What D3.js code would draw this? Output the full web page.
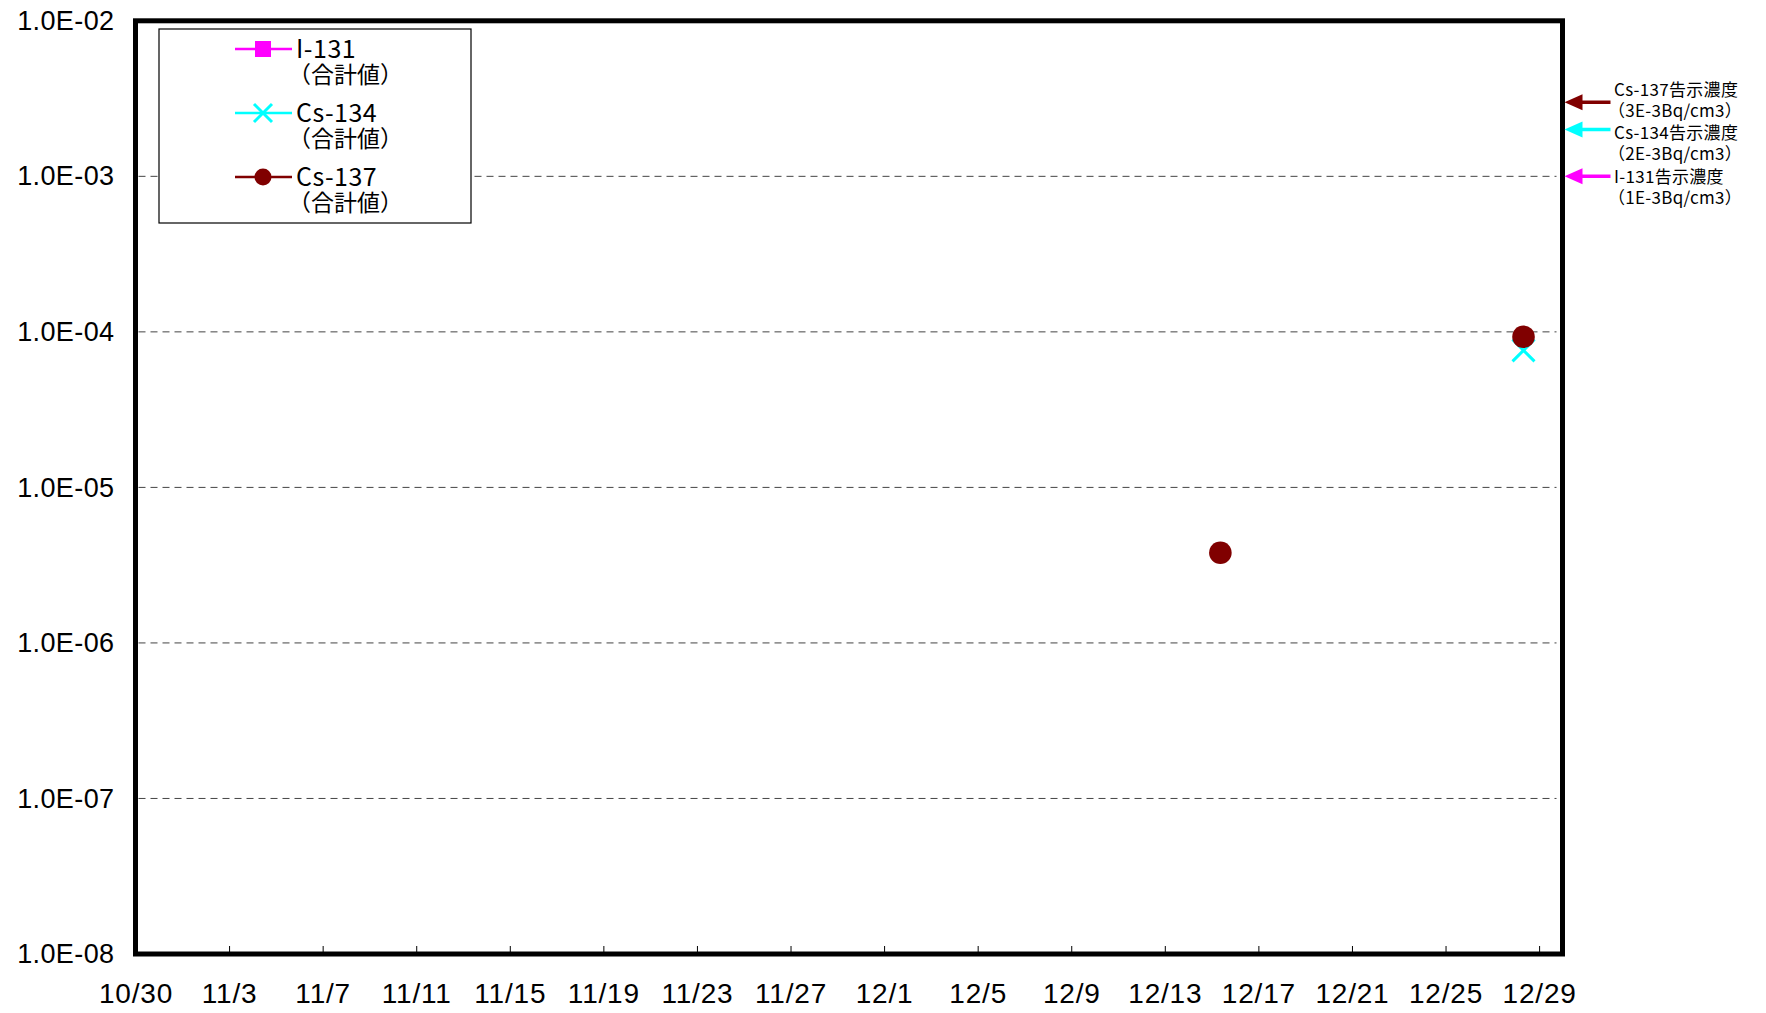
<!DOCTYPE html>
<html>
<head>
<meta charset="utf-8">
<script src="https://cdn.jsdelivr.net/npm/d3@7"></script>
<style>
  body { margin: 0; background: #fff; }
  svg { display: block; font-family: "Noto Sans CJK JP", "Noto Sans", sans-serif; }
</style>
</head>
<body>
<svg id="chart" width="1766" height="1013"></svg>
<script>
// series (sampling date, Bq/cm3)
var i131Dates = [];
var i131Values = [];
var cs134Dates = ["2011-12-28T08:00"];
var cs134Values = [7.6e-5];
var cs137Dates = ["2011-12-15T09:00", "2011-12-28T08:00"];
var cs137Values = [3.8e-6, 9.3e-5];

var xTickLabels = ["10/30", "11/3", "11/7", "11/11", "11/15", "11/19", "11/23", "11/27",
                   "12/1", "12/5", "12/9", "12/13", "12/17", "12/21", "12/25", "12/29"];
var yTicks = [1e-8, 1e-7, 1e-6, 1e-5, 1e-4, 1e-3, 1e-2];

var legendNames = ["I-131", "Cs-134", "Cs-137"];
var legendSub = "（合計値）";
var limitNames = ["Cs-137告示濃度", "Cs-134告示濃度", "I-131告示濃度"];
var limitSub = ["（3E-3Bq/cm3）", "（2E-3Bq/cm3）", "（1E-3Bq/cm3）"];
var limitValues = [3e-3, 2e-3, 1e-3];
var limitColors = ["#800000", "#00ffff", "#ff00ff"];

var LEFT = 135.5, RIGHT = 1562.5, TOP = 20.8, BOTTOM = 954;

var parse = d3.timeParse("%Y-%m-%dT%H:%M");
var parseTick = function (s) { return d3.timeParse("%Y/%m/%d")("2011/" + s); };

var x = d3.scaleTime()
  .domain([parseTick("10/30"), parseTick("12/30")])
  .range([LEFT, RIGHT]);
var y = d3.scaleLog()
  .domain([1e-8, 1e-2])
  .range([BOTTOM, TOP]);

var svg = d3.select("#chart");

// grid lines
svg.append("g").selectAll("line")
  .data(yTicks.slice(1, -1))
  .enter().append("line")
  .attr("x1", LEFT + 3).attr("x2", RIGHT - 6)
  .attr("y1", function (d) { return y(d); })
  .attr("y2", function (d) { return y(d); })
  .attr("stroke", "#444")
  .attr("stroke-width", 1)
  .attr("stroke-dasharray", "7,5");

// x axis: ticks point up into the plot
var xAxis = d3.axisBottom(x)
  .tickValues(xTickLabels.map(parseTick))
  .tickFormat(d3.timeFormat("%-m/%-d"))
  .tickSize(-8)
  .tickPadding(29);
var gx = svg.append("g")
  .attr("transform", "translate(0," + BOTTOM + ")")
  .call(xAxis);
gx.select(".domain").remove();
gx.selectAll("line").attr("stroke", "#000");
gx.selectAll("text")
  .attr("font-size", 28)
  .attr("letter-spacing", 0.8)
  .attr("font-family", null)
  .attr("fill", "#000");

// y axis
var fmtY = function (d) {
  var e = Math.round(Math.log10(d));
  return "1.0E-" + d3.format("02d")(-e);
};
var gy = svg.append("g")
  .attr("transform", "translate(" + LEFT + ",0)")
  .call(d3.axisLeft(y).tickValues(yTicks).tickFormat(fmtY).tickSize(0).tickPadding(21));
gy.select(".domain").remove();
gy.selectAll("text")
  .attr("font-size", 27)
  .attr("letter-spacing", 0.4)
  .attr("font-family", null)
  .attr("fill", "#000");

// frame
svg.append("rect")
  .attr("x", LEFT).attr("y", TOP)
  .attr("width", RIGHT - LEFT).attr("height", BOTTOM - TOP)
  .attr("fill", "none")
  .attr("stroke", "#000")
  .attr("stroke-width", 5);

// markers
function square(g, cx, cy, s) {
  g.append("rect")
    .attr("x", cx - s / 2).attr("y", cy - s / 2)
    .attr("width", s).attr("height", s)
    .attr("fill", "#ff00ff");
}
function cross(g, cx, cy, s) {
  g.append("path")
    .attr("d", "M" + (cx - s) + "," + (cy - s) + "L" + (cx + s) + "," + (cy + s) +
               "M" + (cx - s) + "," + (cy + s) + "L" + (cx + s) + "," + (cy - s))
    .attr("stroke", "#00ffff")
    .attr("stroke-width", 3)
    .attr("fill", "none");
}
function dot(g, cx, cy, r) {
  g.append("circle")
    .attr("cx", cx).attr("cy", cy).attr("r", r)
    .attr("fill", "#800000");
}

var plot = svg.append("g");
i131Dates.forEach(function (d, i) { square(plot, x(parse(d)), y(i131Values[i]), 16); });
cs134Dates.forEach(function (d, i) { cross(plot, x(parse(d)), y(cs134Values[i]), 11); });
cs137Dates.forEach(function (d, i) { dot(plot, x(parse(d)), y(cs137Values[i]), 11.3); });

// legend
var lg = svg.append("g");
lg.append("rect")
  .attr("x", 159).attr("y", 29)
  .attr("width", 312).attr("height", 194)
  .attr("fill", "#fff")
  .attr("stroke", "#000")
  .attr("stroke-width", 1.2);
var legendColors = ["#ff00ff", "#00ffff", "#800000"];
legendNames.forEach(function (name, i) {
  var ly = 49 + i * 64;
  lg.append("line")
    .attr("x1", 235).attr("x2", 292)
    .attr("y1", ly).attr("y2", ly)
    .attr("stroke", legendColors[i])
    .attr("stroke-width", 2.5);
  if (i === 0) square(lg, 263, ly, 16);
  if (i === 1) cross(lg, 263, ly, 9);
  if (i === 2) dot(lg, 263, ly, 8.5);
  // two lines in one text element
  var t = lg.append("text").attr("y", ly + 8.5);
  t.append("tspan")
    .attr("x", 296)
    .attr("font-size", 25)
    .attr("letter-spacing", 0.5)
    .text(name);
  t.append("tspan")
    .attr("x", 288).attr("dy", 25.5)
    .attr("font-size", 23)
    .text(legendSub);
});

// limit arrows on the right
var ann = svg.append("g");
limitNames.forEach(function (name, i) {
  var ay = y(limitValues[i]);
  var tip = RIGHT + 2;
  ann.append("line")
    .attr("x1", tip + 14).attr("x2", tip + 46)
    .attr("y1", ay).attr("y2", ay)
    .attr("stroke", limitColors[i])
    .attr("stroke-width", 3.5);
  ann.append("path")
    .attr("d", "M" + tip + "," + ay + "L" + (tip + 18) + "," + (ay - 8) + "L" + (tip + 18) + "," + (ay + 8) + "Z")
    .attr("fill", limitColors[i]);
  var t = ann.append("text")
    .attr("y", 95.5 + i * 43.5)
    .attr("font-size", 17)
    .attr("letter-spacing", 0.3);
  t.append("tspan").attr("x", 1614).text(name);
  t.append("tspan").attr("x", 1608).attr("dy", 21).text(limitSub[i]);
});
</script>
</body>
</html>
